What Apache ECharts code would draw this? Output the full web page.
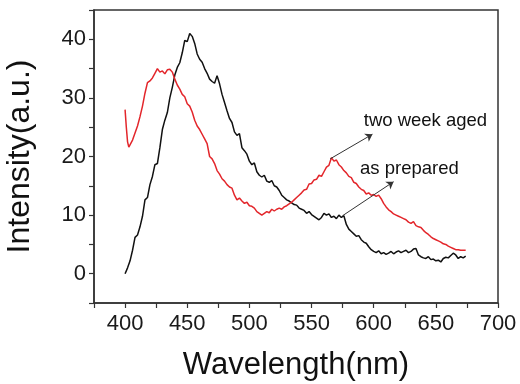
<!DOCTYPE html>
<html>
<head>
<meta charset="utf-8">
<script src="https://cdn.jsdelivr.net/npm/echarts@6/dist/echarts.min.js"></script>
<style>
  html, body { margin: 0; padding: 0; background: #fff; }
  #main { width: 520px; height: 384px; }
</style>
</head>
<body>
<div id="main"></div>
<script>
// wavelength (nm) / intensity (a.u.)
var asPreparedX = [400,402,404,406,408,410,412,414,416,418,420,422,424,426,428,430,432,434,436,438,440,442,444,446,448,450,452,454,456,458,460,462,464,466,468,470,472,474,476,478,480,482,484,486,488,490,492,494,496,498,500,502,504,506,508,510,512,514,516,518,520,522,524,526,528,530,532,534,536,538,540,542,544,546,548,550,552,554,556,558,560,562,564,566,568,570,572,574,576,578,580,582,584,586,588,590,592,594,596,598,600,602,604,606,608,610,612,614,616,618,620,622,624,626,628,630,632,634,636,638,640,642,644,646,648,650,652,654,656,658,660,662,664,666,668,670,672,674];
var asPreparedY = [0,1,2.2,4,6.2,6.6,8,9.8,12.6,13,15.2,16.6,18.6,18.8,21.5,24.6,26.2,27.5,30,31.8,33.9,35.2,36,37.7,39.8,39.6,41,40.5,39.3,37.5,36.6,36.1,35,34.2,33.2,32.8,32.5,33.8,32.4,30.6,29.2,27.8,26.5,25.8,24.2,23.6,23.9,21.5,21,20.4,19.2,18.6,18.9,17.4,16.8,16.5,16.8,15.8,15.6,15.9,15,14.8,14.2,13.4,13,12.6,12.4,12.1,11.8,11.7,11.2,11,10.8,10.3,10.6,10.1,9.8,9.5,9.2,9.6,10.3,10,10.2,9.6,9.8,9.4,10,9.6,9.9,8.4,7.6,7.2,6.8,6.4,6.5,5.8,5.4,5.2,4.6,4.1,3.8,3.6,3.9,3.4,3.6,3.3,3.5,3.8,3.4,3.7,3.9,3.6,3.8,4,3.6,3.8,4.2,4.3,3.2,2.9,2.7,2.6,2.9,2.4,2.5,2.2,2.3,2,2.6,2.8,2.7,3.1,3.5,3.2,2.6,2.9,2.7,3];

var agedX = [400,401,402,403,404,406,408,410,412,414,416,418,420,422,424,426,428,430,432,434,436,438,440,442,444,446,448,450,452,454,456,458,460,462,464,466,468,470,472,474,476,478,480,482,484,486,488,490,492,494,496,498,500,502,504,506,508,510,512,514,516,518,520,522,524,526,528,530,532,534,536,538,540,542,544,546,548,550,552,554,556,558,560,562,564,566,568,570,572,574,576,578,580,582,584,586,588,590,592,594,596,598,600,602,604,606,608,610,612,614,616,618,620,622,624,626,628,630,632,634,636,638,640,642,644,646,648,650,652,654,656,658,660,662,664,666,668,670,672,674];
var agedY = [28,25,22.5,21.6,21.8,22.8,24,25.2,26.8,28.6,30.8,32.6,32.9,33.4,34.2,35,34.4,34.6,34.1,34.8,34.9,34.4,33.2,32.2,31.5,30.6,30.2,29,28.6,27.6,26.2,25.2,24.6,23.8,23,22.2,20,19.6,18.8,17.6,17,16.2,15.8,15.2,14.8,14.6,13.4,12.6,12.9,12.4,12,12.2,11.6,11.5,11.2,10.6,10.3,10,10.3,10.6,10.4,11,10.7,11,11.2,11,11.4,11.6,11.9,12.2,12.6,13,13.4,13.8,14.3,14.4,15.3,15.4,16,16.1,16.8,16.6,17.4,18.2,18.5,19.8,19.2,19.4,18.6,18.2,17.6,17.2,16.6,16.4,15.6,15.4,14.8,14.4,14.2,13.6,13.8,13.4,13.5,13.2,13.4,12.8,12,11.4,10.9,10.6,10.2,10,9.8,9.6,9.4,9.2,8.8,8.6,8.9,8.2,8,7.9,7.4,7,6.7,6.3,6,5.8,5.6,5.4,5.1,5,4.7,4.5,4.3,4.1,4.1,4,4,4];

// annotation arrows: [start, end] in data units
var agedArrow = [[565, 19.6], [599, 23.8]];
var preparedArrow = [[575, 9.9], [616, 15.7]];
var agedLabelAt = [592, 26];
var preparedLabelAt = [589, 17.8];

function pairs(xs, ys) {
    return xs.map(function (x, i) { return [x, ys[i]]; });
}

var myChart = echarts.init(document.getElementById('main'));

var font = 'Liberation Sans';

option = {
    backgroundColor: '#fff',
    animation: false,
    grid: {
        left: 94,
        right: 22,
        top: 10,
        bottom: 81,
        outerBoundsMode: 'none',
        containLabel: false,
        show: true,
        borderColor: '#333',
        borderWidth: 1.5
    },
    xAxis: {
        type: 'value',
        min: 375,
        max: 700,
        interval: 25,
        name: 'Wavelength(nm)',
        nameLocation: 'middle',
        nameGap: 47,
        nameTextStyle: { fontFamily: font, fontSize: 31, color: '#111' },
        axisLine: { onZero: false, lineStyle: { color: '#333', width: 1.5 } },
        axisTick: { inside: false, length: 5, lineStyle: { color: '#333', width: 1.2 } },
        axisLabel: {
            fontFamily: font, fontSize: 22, color: '#1a1a1a', margin: 10,
            showMinLabel: true, showMaxLabel: true,
            formatter: function (v) { return v % 50 === 0 ? String(v) : ''; }
        },
        splitLine: { show: false }
    },
    yAxis: {
        type: 'value',
        min: -5,
        max: 45,
        interval: 5,
        name: 'Intensity(a.u.)',
        nameLocation: 'middle',
        nameGap: 58,
        nameTextStyle: { fontFamily: font, fontSize: 32, color: '#111' },
        axisLine: { onZero: false, lineStyle: { color: '#333', width: 1.5 } },
        axisTick: { inside: false, length: 5, lineStyle: { color: '#333', width: 1.2 } },
        axisLabel: {
            fontFamily: font, fontSize: 22, color: '#1a1a1a', margin: 8,
            formatter: function (v) { return v % 10 === 0 ? String(v) : ''; }
        },
        splitLine: { show: false }
    },
    series: [
        {
            name: 'as prepared',
            type: 'line',
            data: pairs(asPreparedX, asPreparedY),
            showSymbol: false,
            lineStyle: { color: '#111', width: 1.5 },
            markLine: {
                silent: true,
                symbol: ['none', 'arrow'],
                symbolSize: 7,
                label: { show: false },
                lineStyle: { color: '#333', width: 1, type: 'solid' },
                data: [[{ coord: preparedArrow[0] }, { coord: preparedArrow[1] }]]
            },
            markPoint: {
                silent: true,
                symbol: 'circle',
                symbolSize: 0,
                label: {
                    show: true, position: 'right', distance: 0,
                    formatter: 'as prepared',
                    fontFamily: font, fontSize: 18.5, color: '#111'
                },
                data: [{ coord: preparedLabelAt }]
            }
        },
        {
            name: 'two week aged',
            type: 'line',
            data: pairs(agedX, agedY),
            showSymbol: false,
            lineStyle: { color: '#e3262b', width: 1.5 },
            markLine: {
                silent: true,
                symbol: ['none', 'arrow'],
                symbolSize: 7,
                label: { show: false },
                lineStyle: { color: '#333', width: 1, type: 'solid' },
                data: [[{ coord: agedArrow[0] }, { coord: agedArrow[1] }]]
            },
            markPoint: {
                silent: true,
                symbol: 'circle',
                symbolSize: 0,
                label: {
                    show: true, position: 'right', distance: 0,
                    formatter: 'two week aged',
                    fontFamily: font, fontSize: 18.5, color: '#111'
                },
                data: [{ coord: agedLabelAt }]
            }
        }
    ]
};
myChart.setOption(option);
</script>
</body>
</html>
